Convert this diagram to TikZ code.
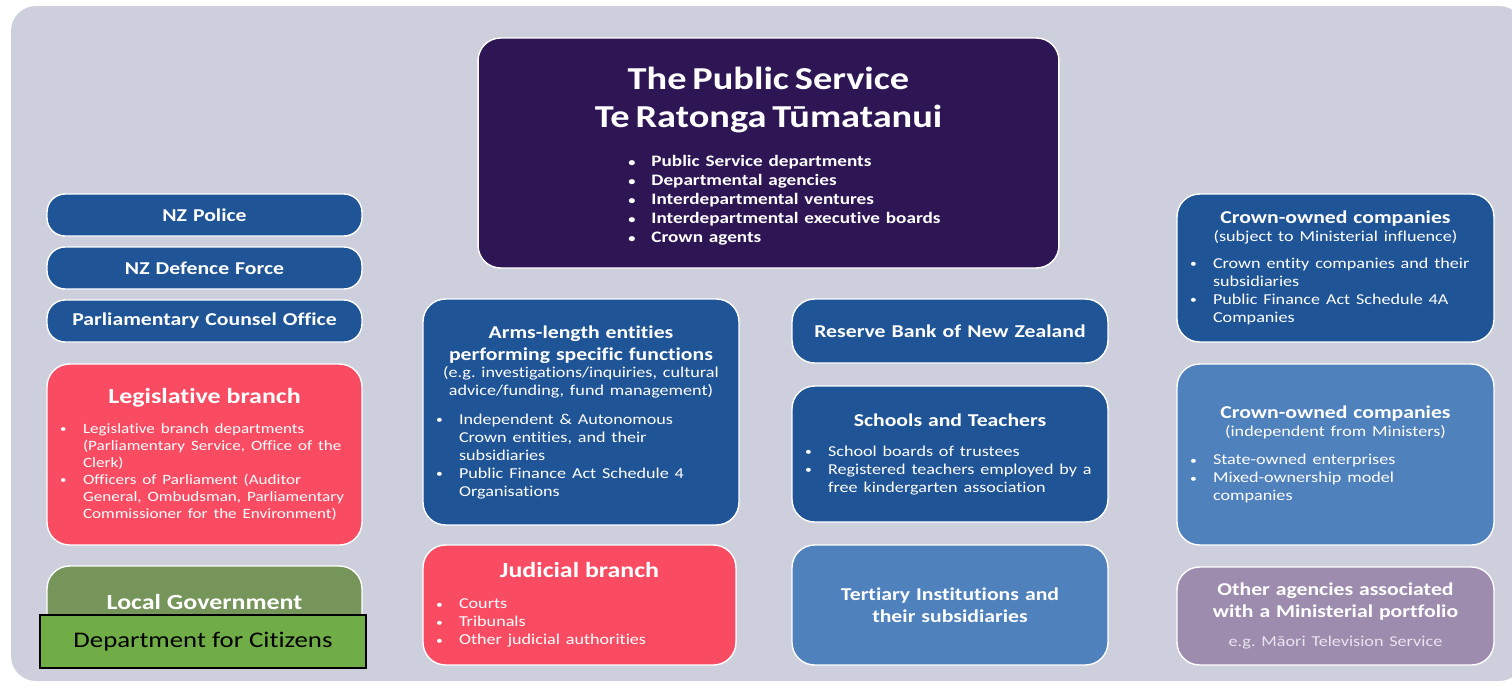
\documentclass[tikz,border=0pt]{standalone}
\usepackage{fontspec}
\setmainfont{Carlito}[FakeStretch=1.2,Ligatures=NoCommon]
\setlength\parskip{0pt}
\frenchspacing

\definecolor{backdrop}{RGB}{205,208,220}
\definecolor{psviolet}{RGB}{46,22,84}
\definecolor{darkblue}{RGB}{31,84,150}
\definecolor{lightblue}{RGB}{79,129,189}
\definecolor{branchred}{RGB}{249,75,98}
\definecolor{localgreen}{RGB}{118,149,90}
\definecolor{citizengreen}{RGB}{112,173,71}
\definecolor{mauve}{RGB}{158,140,174}
\definecolor{paletext}{RGB}{232,228,240}

% fonts
\newcommand\titlefont{\fontsize{18.2}{21.5}\selectfont\bfseries}
\newcommand\headfont{\fontsize{10.3}{12.5}\selectfont\bfseries}
\newcommand\bigheadfont{\fontsize{12.3}{14}\selectfont\bfseries}
\newcommand\subfont{\fontsize{8.6}{10.2}\selectfont}
\newcommand\itemfont{\fontsize{8.6}{10.2}\selectfont}

% bullet item with hanging indent
\newlength\bhang \setlength\bhang{0.62cm}
\newcommand\bdot{\raisebox{0.1ex}{\scalebox{0.75}{\textbullet}}}
\newcommand\bpt[1]{\par\hangindent=\bhang\hangafter=1\noindent\makebox[\bhang][l]{\hspace*{0.16cm}\bdot}#1}

\begin{document}
\begin{tikzpicture}
    [x=0.02cm,y=-0.02cm,
     panel/.style={rounded corners=0.45cm,draw=white,line width=0.8pt,text=white,
       inner xsep=0.1cm,inner ysep=0pt,align=center},
     slim/.style={panel,rounded corners=0.36cm,minimum width=6.3cm,text width=6.1cm,
       minimum height=0.84cm,fill=darkblue,font=\headfont}]
    \useasboundingbox (0,0) rectangle (1512,687);
    \fill[white] (0,0) rectangle (1512,687);
    \fill[backdrop,rounded corners=0.5cm] (11,6) rectangle (1524,681);

    % public service
    \node[panel,fill=psviolet,minimum width=11.62cm,text width=11.42cm,minimum height=4.6cm] (pubserv) at (768.5,153)
      {{\titlefont The Public Service\\Te Ratonga Tūmatanui\par}\vspace{10.7pt}
       {\fontsize{9.1}{10.8}\selectfont\bfseries\hspace*{0.64cm}%
        \begin{tabular}{@{}l@{}l@{}}
        \makebox[0.46cm][l]{\bdot} & Public Service departments\\
        \makebox[0.46cm][l]{\bdot} & Departmental agencies\\
        \makebox[0.46cm][l]{\bdot} & Interdepartmental ventures\\
        \makebox[0.46cm][l]{\bdot} & Interdepartmental executive boards\\
        \makebox[0.46cm][l]{\bdot} & Crown agents
        \end{tabular}\par}\vspace{-5.7pt}};

    % left column
    \node[slim] (police) at (204.5,215) {NZ Police};
    \node[slim] (defence) at (204.5,268) {NZ Defence Force};
    \node[slim] (pco) at (204.5,321) {Parliamentary Counsel Office};
    \node[panel,fill=branchred,minimum width=6.3cm,text width=6.1cm,minimum height=3.62cm] (legis) at (204.5,454.5)
      {{\bigheadfont Legislative branch\par}\vspace{7pt}
       {\fontsize{8.1}{9.7}\selectfont\raggedright
        \bpt{Legislative branch departments\newline (Parliamentary Service, Office of the\newline Clerk)}
        \bpt{Officers of Parliament (Auditor\newline General, Ombudsman, Parliamentary\newline Commissioner for the Environment)}\par}};
    \node[panel,fill=localgreen,minimum width=6.3cm,minimum height=1.98cm] (localgov) at (204.5,615.5) {};
    \node[text=white,font=\bigheadfont] (localtitle) at (204.5,602) {Local Government};
    \node[draw=black,line width=0.8pt,fill=citizengreen,minimum width=6.52cm,minimum height=1.06cm,
      font=\fontsize{12.7}{15}\selectfont] (citizens) at (203,641.5) {Department for Citizens};

    % middle columns
    \node[panel,fill=darkblue,minimum width=6.32cm,text width=6.12cm,minimum height=4.52cm] (arms) at (581,412)
      {{\headfont Arms-length entities\\performing specific functions\par}
       {\subfont (e.g. investigations/inquiries, cultural\\advice/funding, fund management)\par}\vspace{6pt}
       {\itemfont\raggedright
        \bpt{Independent \& Autonomous\newline Crown entities, and their\newline subsidiaries}
        \bpt{Public Finance Act Schedule 4\newline Organisations}\par}};
    \node[panel,fill=branchred,minimum width=6.26cm,text width=6.06cm,minimum height=2.4cm] (judicial) at (579.5,605)
      {{\bigheadfont Judicial branch\par}\vspace{7.5pt}
       {\itemfont\raggedright
        \bpt{Courts}
        \bpt{Tribunals}
        \bpt{Other judicial authorities}\par}};
    \node[panel,fill=darkblue,minimum width=6.32cm,text width=6.12cm,minimum height=1.28cm,font=\headfont] (reserve) at (950,331)
      {Reserve Bank of New Zealand};
    \node[panel,fill=darkblue,minimum width=6.32cm,text width=6.12cm,minimum height=2.72cm] (schools) at (950,454)
      {{\headfont Schools and Teachers\par}\vspace{7pt}
       {\itemfont\raggedright
        \bpt{School boards of trustees}
        \bpt{Registered teachers employed by a\newline free kindergarten association}\par}};
    \node[panel,fill=lightblue,minimum width=6.32cm,text width=6.12cm,minimum height=2.4cm,font=\headfont] (tertiary) at (950,605)
      {Tertiary Institutions and\\their subsidiaries};

    % right column
    \node[panel,fill=darkblue,minimum width=6.34cm,text width=6.14cm,minimum height=2.96cm] (crownsub) at (1335.5,268)
      {{\headfont Crown-owned companies\par}
       {\subfont (subject to Ministerial influence)\par}\vspace{5pt}
       {\itemfont\raggedright
        \bpt{Crown entity companies and their\newline subsidiaries}
        \bpt{Public Finance Act Schedule 4A\newline Companies}\par}};
    \node[panel,fill=lightblue,minimum width=6.34cm,text width=6.14cm,minimum height=3.62cm] (crownind) at (1335.5,454.5)
      {{\headfont Crown-owned companies\par}
       {\subfont (independent from Ministers)\par}\vspace{6pt}
       {\itemfont\raggedright
        \bpt{State-owned enterprises}
        \bpt{Mixed-ownership model\newline companies}\par}};
    \node[panel,fill=mauve,minimum width=6.34cm,text width=6.14cm,minimum height=1.96cm] (other) at (1335.5,616)
      {{\headfont Other agencies associated\\with a Ministerial portfolio\par}\vspace{6pt}
       {\subfont\color{paletext}e.g. Māori Television Service\par}};
\end{tikzpicture}
\end{document}
